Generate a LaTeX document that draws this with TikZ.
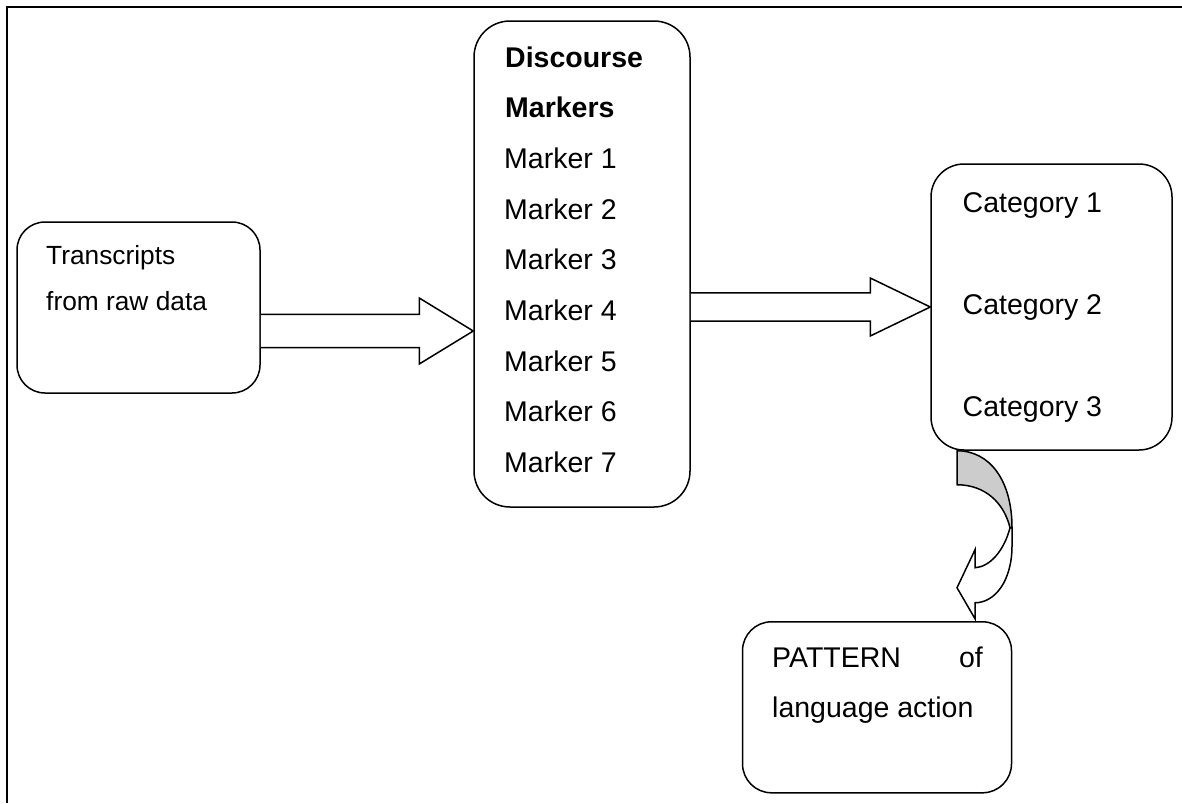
\documentclass[tikz,border=0pt]{standalone}
\usepackage{fontspec}
\setmainfont{Liberation Sans}
\usetikzlibrary{calc}
\tikzset{
  rbox/.style={draw, line width=1.5pt, rounded corners=#1, inner sep=0pt},
  txt/.style={anchor=base west, inner sep=0pt, font=\fontsize{28.5}{28.5}\selectfont},
  txta/.style={anchor=base west, inner sep=0pt, font=\fontsize{26.3}{26.3}\selectfont},
  blockarrow/.style={draw, line width=1.5pt, fill=white, line join=miter},
  frame/.style={draw, line width=2.2pt}
}
\begin{document}
\begin{tikzpicture}[x=1pt,y=-1pt]
\useasboundingbox (0,0) rectangle (1182,803);
\draw[frame] (1182,7) -- (7,7) -- (7,803);

% boxes
\node[rbox=28pt, minimum width=243pt, minimum height=171pt] (A) at (138.5,307.5) {};
\node[rbox=36pt, minimum width=216pt, minimum height=486pt] (B) at (582,264) {};
\node[rbox=33pt, minimum width=241pt, minimum height=286pt] (C) at (1051.5,307) {};
\node[rbox=29pt, minimum width=269pt, minimum height=171pt] (D) at (877,707.3) {};

% texts
\node[txta] (a1) at (46,264) {Transcripts};
\node[txta] (a2) at (46,310) {from raw data};

\node[txt] (b0) at (505,67) {\bfseries Discourse};
\node[txt] (b1) at (505,117.6) {\bfseries Markers};
\node[txt] (m1) at (504,168) {Marker 1};
\node[txt] (m2) at (504,219) {Marker 2};
\node[txt] (m3) at (504,269) {Marker 3};
\node[txt] (m4) at (504,320) {Marker 4};
\node[txt] (m5) at (504,371) {Marker 5};
\node[txt] (m6) at (504,421) {Marker 6};
\node[txt] (m7) at (504,472) {Marker 7};

\node[txt] (c1) at (962.5,212) {Category 1};
\node[txt] (c2) at (962.5,314) {Category 2};
\node[txt] (c3) at (962.5,416) {Category 3};

\node[txt] (d1) at (772,667) {PATTERN};
\node[txt, anchor=base east] (d2) at (983,667) {of};
\node[txt] (d3) at (772,717) {language action};

% block arrow A -> B
\coordinate (a1s) at ($(A.east)+(0,23.5)$);
\coordinate (a1t) at (B.west |- a1s);
\draw[blockarrow] ($(a1s)+(0,-16.7)$) -- ($(a1t)+(-54,-16.7)$) -- ($(a1t)+(-54,-33)$) -- (a1t)
  -- ($(a1t)+(-54,33)$) -- ($(a1t)+(-54,16.7)$) -- ($(a1s)+(0,16.7)$);

% block arrow B -> C
\coordinate (a2s) at ($(B.east)+(0,43)$);
\coordinate (a2t) at (C.west |- a2s);
\draw[blockarrow] ($(a2s)+(0,-14.2)$) -- ($(a2t)+(-60,-14.2)$) -- ($(a2t)+(-60,-29)$) -- (a2t)
  -- ($(a2t)+(-60,29)$) -- ($(a2t)+(-60,14.2)$) -- ($(a2s)+(0,14.2)$);

% curved arrow C -> D
\coordinate (ca) at ($(C.south)+(-94.5,0)$);
\begin{scope}[shift={(ca)}]
  \draw[line width=1.5pt, fill=gray!40, line join=miter]
    (0,0) .. controls (33,0) and (55,30) .. (55,77) -- (53,77)
    .. controls (47,52) and (28,34) .. (0,34) -- cycle;
  \draw[line width=1.5pt, fill=white, line join=miter]
    (55,77) -- (55,95) .. controls (55,130) and (38,152) .. (18,152)
    -- (18,168) -- (0,137) -- (18,99) -- (18,117)
    .. controls (33,116) and (47,100) .. (53,77) -- cycle;
\end{scope}
\end{tikzpicture}
\end{document}
